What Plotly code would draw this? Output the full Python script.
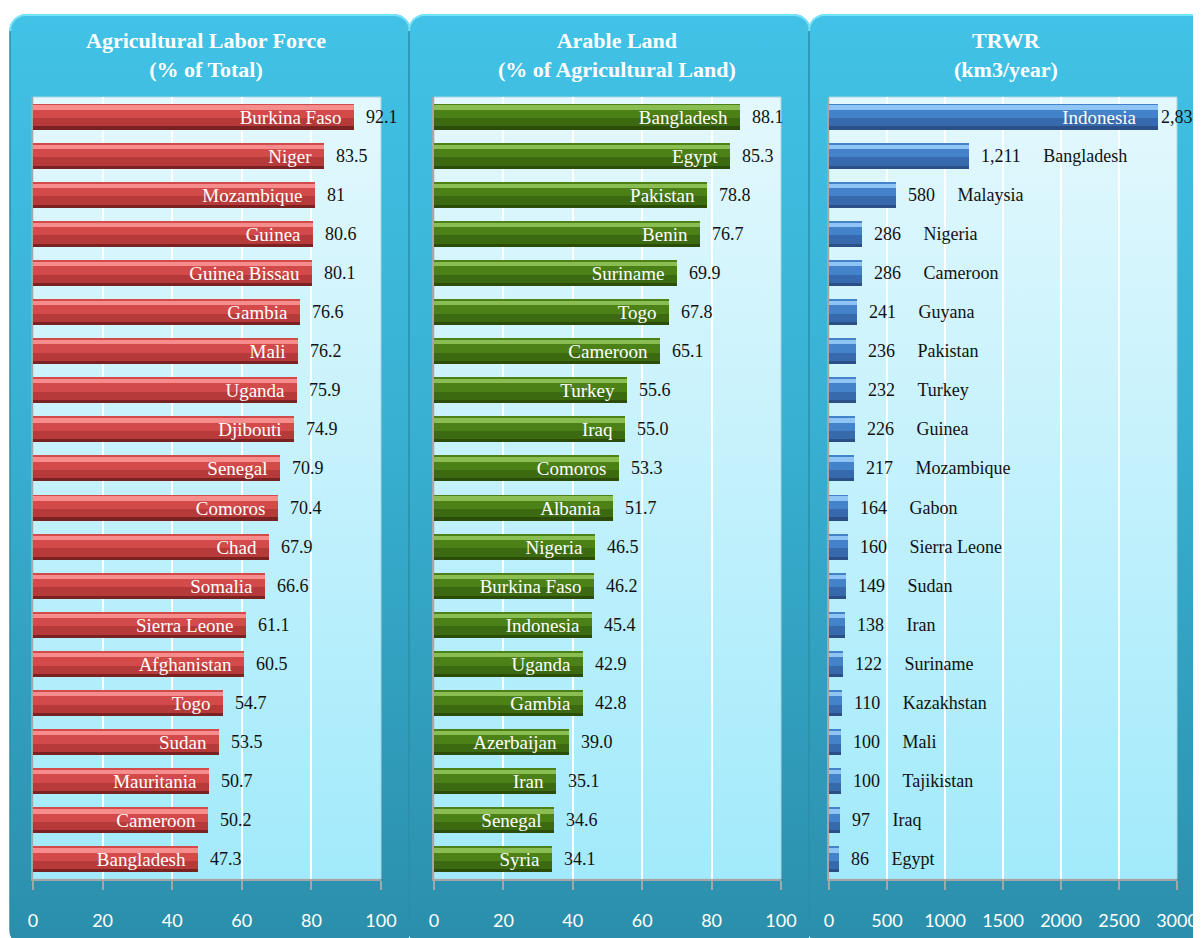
import math
import plotly.graph_objects as go

# The page body has an 8px margin, so the figure is drawn at (8, 8) in the window.
OFF = 8
W, H = 1201 - OFF, 938 - OFF

# --- Data ---
labor_countries = ["Burkina Faso", "Niger", "Mozambique", "Guinea", "Guinea Bissau", "Gambia", "Mali",
                   "Uganda", "Djibouti", "Senegal", "Comoros", "Chad", "Somalia", "Sierra Leone",
                   "Afghanistan", "Togo", "Sudan", "Mauritania", "Cameroon", "Bangladesh"]
labor_values = [92.1, 83.5, 81, 80.6, 80.1, 76.6, 76.2, 75.9, 74.9, 70.9, 70.4, 67.9, 66.6, 61.1,
                60.5, 54.7, 53.5, 50.7, 50.2, 47.3]

arable_countries = ["Bangladesh", "Egypt", "Pakistan", "Benin", "Suriname", "Togo", "Cameroon", "Turkey",
                    "Iraq", "Comoros", "Albania", "Nigeria", "Burkina Faso", "Indonesia", "Uganda",
                    "Gambia", "Azerbaijan", "Iran", "Senegal", "Syria"]
arable_values = [88.1, 85.3, 78.8, 76.7, 69.9, 67.8, 65.1, 55.6, 55.0, 53.3, 51.7, 46.5, 46.2, 45.4,
                 42.9, 42.8, 39.0, 35.1, 34.6, 34.1]

trwr_countries = ["Indonesia", "Bangladesh", "Malaysia", "Nigeria", "Cameroon", "Guyana", "Pakistan",
                  "Turkey", "Guinea", "Mozambique", "Gabon", "Sierra Leone", "Sudan", "Iran", "Suriname",
                  "Kazakhstan", "Mali", "Tajikistan", "Iraq", "Egypt"]
trwr_values = [2838, 1211, 580, 286, 286, 241, 236, 232, 226, 217, 164, 160, 149, 138, 122, 110, 100,
               100, 97, 86]

titles = ["Agricultural Labor Force<br>(% of Total)",
          "Arable Land<br>(% of Agricultural Land)",
          "TRWR<br>(km3/year)"]
x_ranges = [[0, 100], [0, 100], [0, 3000]]
x_dticks = [20, 20, 500]

# --- Layout constants (window pixels) ---
PANEL_X = [(10, 410), (409, 810), (809, 1214)]
PANEL_TOP, PANEL_BOTTOM, PANEL_R = 15, 946, 16
PLOT_X = [(33, 381), (434, 781), (829, 1177)]
PLOT_Y = (97, 879)
TITLE_X = [206, 617, 1006]
TITLE_Y = 55
HALF = 0.333

BAR_COLORS = [
    dict(dark="#7a2222", low="#b73a3a", main="#d24a4a", light="#f68c8c"),
    dict(dark="#2b4d09", low="#3c6a10", main="#4c8118", light="#8abd52"),
    dict(dark="#2a5087", low="#3769ad", main="#4482c9", light="#8fc5f5"),
]

SERIF = "Liberation Serif, Times New Roman, serif"
NBSP = "\u00a0"


def px_x(x):
    return (x - OFF) / W


def px_y(y):
    return 1 - (y - OFF) / H


def rounded_rect(x0, x1, y0, y1, r, n=10):
    xs, ys = [], []
    corners = [(x1 - r, y0 + r, -90, 0), (x1 - r, y1 - r, 0, 90),
               (x0 + r, y1 - r, 90, 180), (x0 + r, y0 + r, 180, 270)]
    for cx, cy, a0, a1 in corners:
        for k in range(n + 1):
            a = math.radians(a0 + (a1 - a0) * k / n)
            xs.append(cx + r * math.cos(a))
            ys.append(cy + r * math.sin(a))
    xs.append(xs[0])
    ys.append(ys[0])
    return xs, ys


def top_rim(x0, x1, y0, r, n=10):
    xs, ys = [], []
    for cx, a0, a1 in [(x0 + r, 180, 270), (x1 - r, -90, 0)]:
        for k in range(n + 1):
            a = math.radians(a0 + (a1 - a0) * k / n)
            xs.append(cx + r * math.cos(a))
            ys.append(y0 + r + r * math.sin(a))
    return xs, ys


fig = go.Figure()

# --- Background panels (window-pixel subplot xy) ---
for (px0, px1), (qx0, qx1) in zip(PANEL_X, PLOT_X):
    xs, ys = rounded_rect(px0, px1, PANEL_TOP, PANEL_BOTTOM, PANEL_R)
    fig.add_trace(go.Scatter(
        x=xs, y=ys, mode="lines", fill="toself", line=dict(width=1.5, color="#2a8eaa"),
        fillgradient=dict(type="vertical", start=PANEL_TOP, stop=938,
                          colorscale=[[0, "#41c2e6"], [0.45, "#38b0d2"], [1, "#2b8fab"]]),
        hoverinfo="skip", showlegend=False, xaxis="x", yaxis="y"))
    rx, ry = top_rim(px0, px1, PANEL_TOP, PANEL_R)
    fig.add_trace(go.Scatter(
        x=rx, y=ry, mode="lines", line=dict(width=2, color="#74e4fa"),
        hoverinfo="skip", showlegend=False, xaxis="x", yaxis="y"))
    y0, y1 = PLOT_Y
    fig.add_trace(go.Scatter(
        x=[qx0, qx1, qx1, qx0, qx0], y=[y0, y0, y1, y1, y0], mode="lines", fill="toself",
        line=dict(width=1, color="#a8d4e0"),
        fillgradient=dict(type="vertical", start=y0, stop=y1,
                          colorscale=[[0, "#e3f8fd"], [1, "#a2eafb"]]),
        hoverinfo="skip", showlegend=False, xaxis="x", yaxis="y"))

# --- Bars ---
panels = [(labor_countries, labor_values), (arable_countries, arable_values), (trwr_countries, trwr_values)]

for i, (countries, values) in enumerate(panels):
    ax = str(i + 2)
    c = BAR_COLORS[i]
    if i == 0:
        val_txt = [NBSP * 2 + f"{v:g}" for v in values]
        name_txt = [n + NBSP * 2 for n in countries]
    elif i == 1:
        val_txt = [NBSP * 2 + f"{v:.1f}" for v in values]
        name_txt = [n + NBSP * 2 for n in countries]
    else:
        val_txt, name_txt = [], []
        for n, v in zip(countries, values):
            if v > 1500:
                val_txt.append(f"{v:,}")
                name_txt.append(n + NBSP * 4)
            else:
                val_txt.append(NBSP * 2 + f"{v:,}" + NBSP * 5 + n)
                name_txt.append("")

    common = dict(y=countries, x=values, orientation="h", xaxis="x" + ax, yaxis="y" + ax,
                  hoverinfo="skip", showlegend=False, cliponaxis=False)
    fig.add_trace(go.Bar(**common, width=2 * HALF, offset=-HALF,
                         marker=dict(color=c["dark"], line=dict(width=0)),
                         text=val_txt, textposition="outside", textangle=0, constraintext="none",
                         outsidetextfont=dict(family=SERIF, size=18, color="#111111")))
    fig.add_trace(go.Bar(**common, width=2 * HALF - 0.08, offset=-HALF,
                         marker=dict(color=c["low"], line=dict(width=0))))
    fig.add_trace(go.Bar(**common, width=HALF + 0.04, offset=-HALF,
                         marker=dict(color=c["main"], line=dict(width=0))))
    fig.add_trace(go.Bar(**common, width=0.11, offset=-HALF + 0.05,
                         marker=dict(color=c["light"], line=dict(width=0))))
    fig.add_trace(go.Bar(**common, width=2 * HALF, offset=-HALF,
                         marker=dict(color="rgba(0,0,0,0)", line=dict(width=0)),
                         text=name_txt, textposition="inside", insidetextanchor="end",
                         textangle=0, constraintext="none",
                         insidetextfont=dict(family=SERIF, size=19, color="#ffffff")))

# --- Axes ---
layout_axes = dict(
    xaxis=dict(domain=[0, 1], range=[OFF, OFF + W], visible=False, fixedrange=True),
    yaxis=dict(domain=[0, 1], range=[OFF + H, OFF], visible=False, fixedrange=True),
)
for i in range(3):
    ax = str(i + 2)
    qx0, qx1 = PLOT_X[i]
    y0, y1 = PLOT_Y
    layout_axes["xaxis" + ax] = dict(
        domain=[px_x(qx0), px_x(qx1)], anchor="y" + ax, range=x_ranges[i], dtick=x_dticks[i],
        showgrid=True, gridcolor="#ffffff", gridwidth=2, zeroline=False,
        showline=True, linecolor="#a6a6a6", linewidth=2,
        ticks="outside", ticklen=9, tickwidth=2, tickcolor="#a6a6a6",
        tickfont=dict(family="Lato, sans-serif", size=18, color="#ffffff"),
        ticklabelstandoff=15, fixedrange=True)
    layout_axes["yaxis" + ax] = dict(
        domain=[px_y(y1), px_y(y0)], anchor="x" + ax, type="category",
        range=[len(panels[i][0]) - 0.5, -0.5], showticklabels=False, ticks="",
        showgrid=False, zeroline=False, showline=True, linecolor="#a6a6a6", linewidth=2,
        fixedrange=True)

annotations = []
for i, t in enumerate(titles):
    annotations.append(dict(
        text="<b>" + t + "</b>", xref="paper", yref="paper", x=px_x(TITLE_X[i]), y=px_y(TITLE_Y),
        xanchor="center", yanchor="middle", showarrow=False,
        font=dict(family=SERIF, size=22, color="#ffffff")))

fig.update_layout(
    width=W, height=H, margin=dict(l=0, r=0, t=0, b=0, autoexpand=False),
    paper_bgcolor="#ffffff", plot_bgcolor="rgba(0,0,0,0)",
    barmode="overlay", bargap=0, showlegend=False,
    annotations=annotations,
    **layout_axes)

fig.write_html("out.html")
